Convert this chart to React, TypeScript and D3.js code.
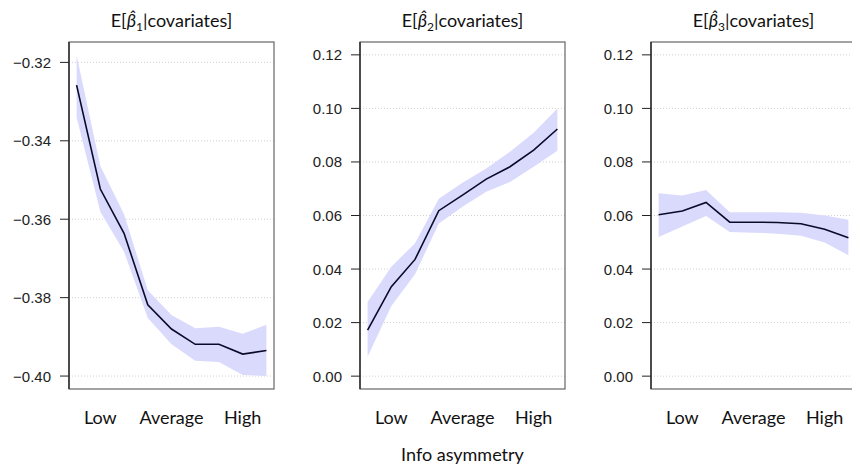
import React from 'react';
import * as d3 from 'd3';

// info asymmetry levels (1 = lowest .. 9 = highest)
const levels = [1, 2, 3, 4, 5, 6, 7, 8, 9];
const catLabels = ['Low', 'Average', 'High'];
const catAt = [2, 5, 8];

const beta1Mean = [-0.3258, -0.3523, -0.3636, -0.3818, -0.388, -0.3919, -0.3919, -0.3944, -0.3935];
const beta1Upper = [-0.3181, -0.3464, -0.3587, -0.3781, -0.3844, -0.3878, -0.3874, -0.3892, -0.3869];
const beta1Lower = [-0.334, -0.3581, -0.3683, -0.3852, -0.3919, -0.3961, -0.3964, -0.3997, -0.4];

const beta2Mean = [0.0172, 0.0334, 0.0436, 0.0618, 0.0676, 0.0736, 0.0782, 0.0844, 0.0923];
const beta2Upper = [0.0277, 0.0409, 0.0496, 0.0663, 0.0722, 0.0776, 0.0838, 0.0909, 0.1];
const beta2Lower = [0.0072, 0.0262, 0.0381, 0.057, 0.0633, 0.0689, 0.0725, 0.0782, 0.0842];

const beta3Mean = [0.0603, 0.0617, 0.0649, 0.0575, 0.0575, 0.0574, 0.0569, 0.0549, 0.0517];
const beta3Upper = [0.0683, 0.0675, 0.0695, 0.0612, 0.0612, 0.0612, 0.061, 0.06, 0.0584];
const beta3Lower = [0.052, 0.0559, 0.0598, 0.0538, 0.0536, 0.0532, 0.0524, 0.0499, 0.0452];

const ticks1 = [-0.32, -0.34, -0.36, -0.38, -0.4];
const ticks23 = [0, 0.02, 0.04, 0.06, 0.08, 0.1, 0.12];

const W = 852, H = 465;
const panelTop = 42, panelBottom = 389, panelW = 205;
const panelLefts = [69, 360, 651];

const sans = 'Lato, "Open Sans", sans-serif';
const tickFont = '"Liberation Sans", Arial, sans-serif';

function fmt(v: number) {
  const s = Math.abs(v).toFixed(2);
  return v < -1e-9 ? '\u2212' + s : s;
}

function Panel({ left, sub, mean, upper, lower, domain, ticks }: any) {
  const x = d3.scaleLinear().domain([0.68, 9.32]).range([left, left + panelW]);
  const y = d3.scaleLinear().domain(domain).range([panelBottom, panelTop]);
  const area = d3.area<number>()
    .x((d, i) => x(levels[i]))
    .y0((d, i) => y(lower[i]))
    .y1((d, i) => y(upper[i]));
  const line = d3.line<number>()
    .x((d, i) => x(levels[i]))
    .y(d => y(d));
  const cx = left + panelW / 2;
  return (
    <g>
      <text x={cx} y={27} textAnchor="middle" fontFamily={sans} fontSize={18} fill="#111">
        E[<tspan fontStyle="italic">{'\u03B2\u0302'}</tspan>
        <tspan fontSize={12} dy={4}>{sub}</tspan>
        <tspan dy={-4}>|covariates]</tspan>
      </text>
      {ticks.map((t: number) => (
        <g key={t}>
          <line x1={left} x2={left + panelW} y1={y(t)} y2={y(t)} stroke="#c4c4c4" strokeWidth={0.8} strokeDasharray="1,2" />
          <line x1={left - 9} x2={left} y1={y(t)} y2={y(t)} stroke="#222" strokeWidth={1} />
          <text x={left - 18} y={y(t) + 5.5} textAnchor="end" fontFamily={tickFont} fontSize={15} fill="#222">{fmt(t)}</text>
        </g>
      ))}
      <path d={area(mean) || ''} fill="#dadafd" />
      <path d={line(mean) || ''} fill="none" stroke="#0a0a28" strokeWidth={1.6} />
      <rect x={left} y={panelTop} width={panelW} height={panelBottom - panelTop} fill="none" stroke="#666" strokeWidth={1.2} />
      <line x1={left} x2={left} y1={panelTop} y2={panelBottom} stroke="#111" strokeWidth={1.2} />
      {catLabels.map((c, i) => (
        <text key={c} x={x(catAt[i])} y={424} textAnchor="middle" fontFamily={sans} fontSize={18} fill="#111">{c}</text>
      ))}
    </g>
  );
}

export default function App() {
  return (
    <svg width={W} height={H} style={{ position: 'absolute', left: 0, top: 0, background: '#fff' }}>
      <Panel left={panelLefts[0]} sub="1" mean={beta1Mean} upper={beta1Upper} lower={beta1Lower} domain={[-0.4033, -0.3148]} ticks={ticks1} />
      <Panel left={panelLefts[1]} sub="2" mean={beta2Mean} upper={beta2Upper} lower={beta2Lower} domain={[-0.0048, 0.1248]} ticks={ticks23} />
      <Panel left={panelLefts[2]} sub="3" mean={beta3Mean} upper={beta3Upper} lower={beta3Lower} domain={[-0.0048, 0.1248]} ticks={ticks23} />
      <text x={panelLefts[1] + panelW / 2} y={461} textAnchor="middle" fontFamily={sans} fontSize={18} fill="#111">Info asymmetry</text>
    </svg>
  );
}
